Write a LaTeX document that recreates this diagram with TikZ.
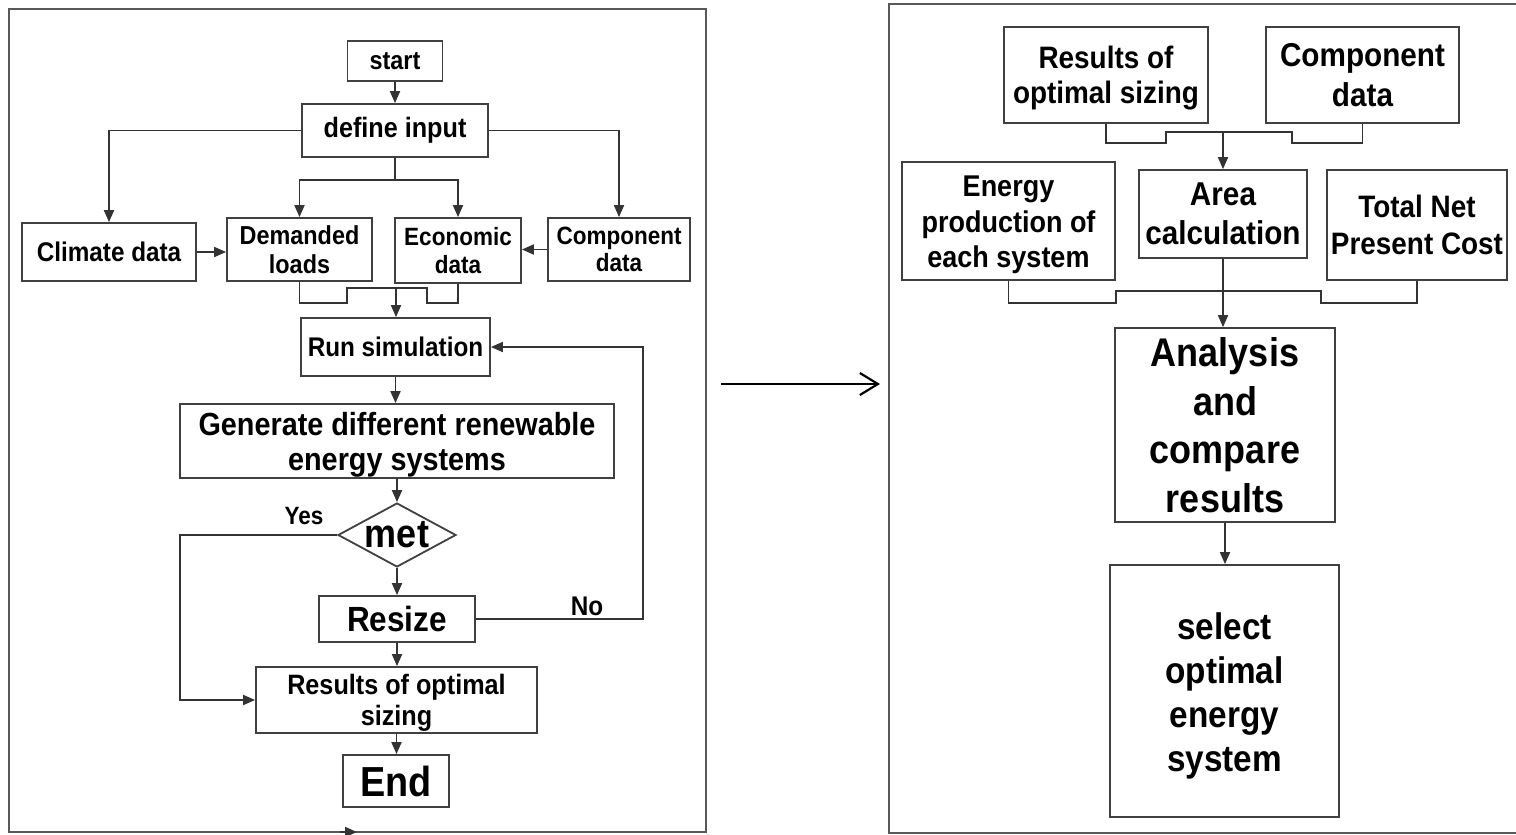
\documentclass[tikz,border=0pt]{standalone}
\usepackage{fontspec}
\setmainfont{Liberation Sans}[FakeStretch=0.9]
\usetikzlibrary{arrows.meta,shapes.geometric}
\newcommand\fs[2]{\fontsize{#1}{#2}\selectfont}
\begin{document}
\begin{tikzpicture}[x=1pt,y=-1pt,
  bx/.style={draw=black!75, line width=1.8pt, inner sep=0pt, align=center},
  txt/.style={inner sep=0pt, align=center},
  ln/.style={line width=1.8pt, draw=black!80},
  arr/.style={line width=1.8pt, draw=black!80, -{Triangle[length=12pt,width=10pt]}},
  panel/.style={line width=2pt, draw=black!65},
  lbl/.style={inner sep=0pt}]
\useasboundingbox (0,0) rectangle (1516,835);
\fill[white] (0,0) rectangle (1516,835);
% panels
\draw[panel] (9,9) rectangle (706,832);
\draw[panel] (1530,4) -- (889,4) -- (889,833) -- (1530,833);
% ---------- left flowchart ----------
\node[bx, minimum width=95pt, minimum height=40pt, font={\bfseries\fs{26}{30}}] (start) at (395,61) {start};
\node[bx, minimum width=186pt, minimum height=53pt, font={\bfseries\fs{28}{32}}] (define) at (395,130.5) {define input};
\node[bx, minimum width=174pt, minimum height=58pt, font={\bfseries\fs{27}{30}}] (climate) at (109,252) {Climate data};
\node[bx, minimum width=145pt, minimum height=63pt, font={\bfseries\fs{26}{29}}] (demanded) at (299.5,249.5) {Demanded\\loads};
\node[bx, minimum width=126pt, minimum height=65pt, font={\bfseries\fs{25}{28}}] (economic) at (458,250.5) {Economic\\data};
\node[bx, minimum width=142pt, minimum height=63pt, font={\bfseries\fs{25}{27}}] (component) at (619,249.5) {Component\\data};
\node[bx, minimum width=189pt, minimum height=58pt, font={\bfseries\fs{27}{30}}] (run) at (395.5,347) {Run simulation};
\node[bx, minimum width=434pt, minimum height=74pt] (generate) at (397,441) {};
\node[txt, font={\bfseries\fs{32}{35}}] (generatetext) at ([yshift=-4pt]generate.center) {Generate different renewable\\energy systems};
\node[draw=black!75, line width=1.8pt, diamond, inner sep=0pt, minimum width=118pt, minimum height=64pt] (met) at (397,535) {};
\node[lbl, font={\bfseries\fs{40}{44}}] (mettext) at (met.center) {met};
\node[bx, minimum width=156pt, minimum height=46pt, font={\bfseries\fs{35}{38}}] (resize) at (397,619) {Resize};
\node[bx, minimum width=281pt, minimum height=66pt] (results) at (396.5,700) {};
\node[txt, font={\bfseries\fs{28}{31}}] (resultstext) at ([yshift=-3pt]results.center) {Results of optimal\\sizing};
\node[bx, minimum width=106pt, minimum height=52pt, font={\bfseries\fs{42}{46}}] (end) at (396,781) {End};
\node[lbl, font={\bfseries\fs{25}{28}}] (yes) at (304,516) {Yes};
\node[lbl, font={\bfseries\fs{27}{30}}] (no) at (587,606) {No};
% connectors left
\draw[arr] (start.south) -- (start.south |- define.north);
\draw[arr] (define.west) -| (climate.north);
\draw[arr] (define.east) -| (component.north);
\coordinate (j1) at (395,180);
\draw[ln] (define.south) -- (j1);
\draw[arr] (j1) -| (demanded.north);
\draw[arr] (j1) -| (economic.north);
\draw[arr] (climate.east) -- (climate.east -| demanded.west);
\draw[arr] (component.west) -- (component.west -| economic.east);
\coordinate (b1) at (347,303);
\coordinate (b2) at (427,288);
\coordinate (b3) at (458,303);
\draw[ln] (demanded.south) |- (b1) |- (b2) |- (b3) -- (economic.south);
\coordinate (m1) at (396,288);
\draw[arr] (m1) -- (m1 |- run.north);
\draw[arr] (run.south) -- (run.south |- generate.north);
\draw[arr] (generate.south) -- (met.north);
\draw[arr] (met.south) -- (met.south |- resize.north);
\coordinate (yc) at (180,700);
\draw[arr] (met.west) -| (yc) -- (results.west);
\coordinate (nc) at (643,619);
\draw[arr] (resize.east) -- (nc) |- (run.east);
\draw[arr] (resize.south) -- (resize.south |- results.north);
\draw[arr] (results.south) -- (results.south |- end.north);
\coordinate (t1) at (340,832);
\coordinate (t2) at (357,832);
\draw[arr] (t1) -- (t2);
% middle arrow
\coordinate (a1) at (721,384);
\coordinate (a2) at (880,384);
\draw[line width=2pt, -{Straight Barb[length=18pt,width=22pt,line width=2.2pt]}] (a1) -- (a2);
% ---------- right flowchart ----------
\node[bx, minimum width=204pt, minimum height=96pt] (ros) at (1106,75) {};
\node[txt, font={\bfseries\fs{31}{35}}] (rostext) at ([yshift=-3pt]ros.center) {Results of\\optimal sizing};
\node[bx, minimum width=193pt, minimum height=96pt, font={\bfseries\fs{33}{40}}] (comp2) at (1362.5,75) {Component\\data};
\node[bx, minimum width=213pt, minimum height=118pt] (energy) at (1008.5,221) {};
\node[txt, font={\bfseries\fs{30}{35.5}}] (energytext) at ([yshift=-4pt]energy.center) {Energy\\production of\\each system};
\node[bx, minimum width=168pt, minimum height=88pt, font={\bfseries\fs{33}{39}}] (area) at (1223,214) {Area\\calculation};
\node[bx, minimum width=180pt, minimum height=110pt, font={\bfseries\fs{31}{37}}] (tnpc) at (1417,225) {Total Net\\Present Cost};
\node[bx, minimum width=220pt, minimum height=194pt, font={\bfseries\fs{40}{48.5}}] (analysis) at (1225,425) {Analysis\\and\\compare\\results};
\node[bx, minimum width=229pt, minimum height=252pt] (select) at (1224.5,691) {};
\node[txt, font={\bfseries\fs{37}{44}}] (selecttext) at ([yshift=-5pt]select.center) {select\\optimal\\energy\\system};
% connectors right
\coordinate (r1) at (1166,143);
\coordinate (r2) at (1292,132);
\coordinate (r3) at (1362.5,143);
\draw[ln] (ros.south) |- (r1) |- (r2) |- (r3) -- (comp2.south);
\coordinate (j2) at (1223,132);
\draw[arr] (j2) -- (area.north);
\coordinate (e1) at (1116,303);
\coordinate (e2) at (1321,291);
\coordinate (e3) at (1417,303);
\draw[ln] (energy.south) |- (e1) |- (e2) |- (e3) -- (tnpc.south);
\draw[arr] (area.south) -- (area.south |- analysis.north);
\draw[arr] (analysis.south) -- (analysis.south |- select.north);
\end{tikzpicture}
\end{document}
